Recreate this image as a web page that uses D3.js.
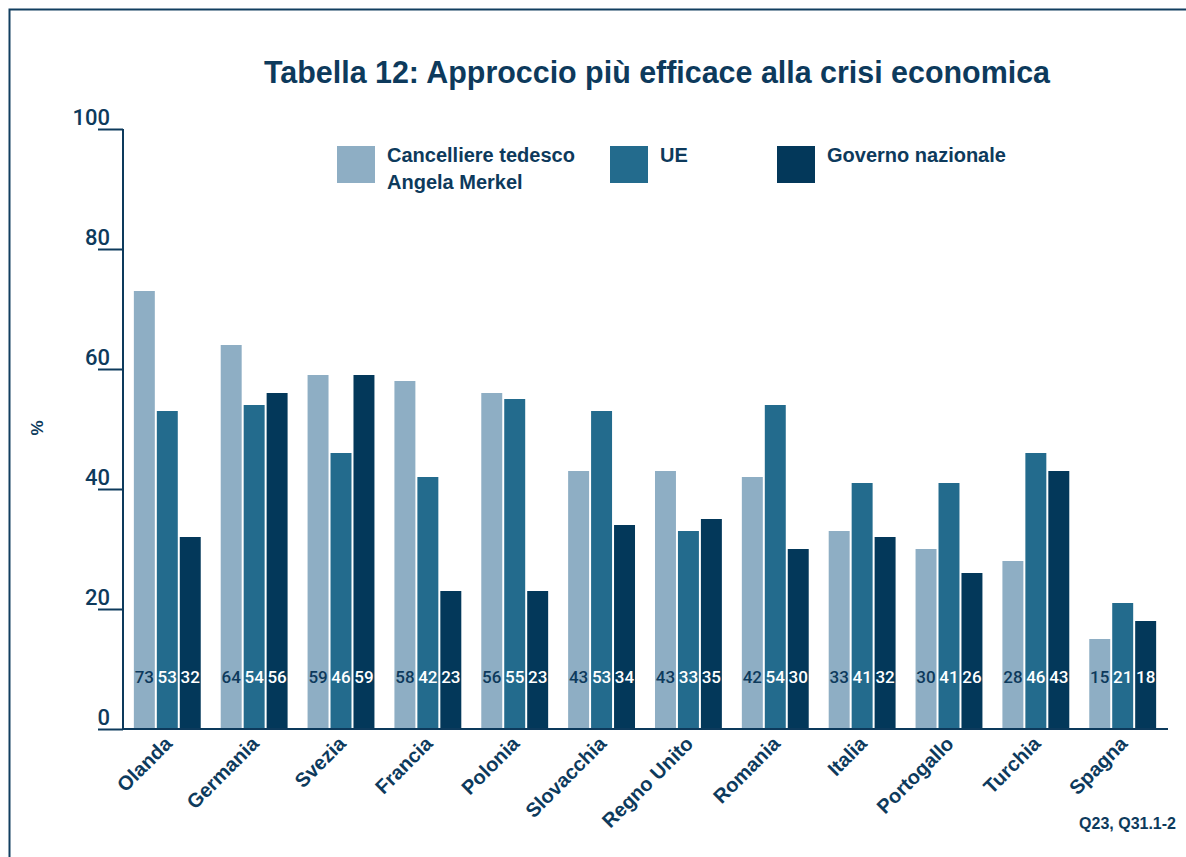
<!DOCTYPE html>
<html>
<head>
<meta charset="utf-8">
<script src="https://cdn.jsdelivr.net/npm/d3@7"></script>
<style>
  html, body { margin: 0; padding: 0; background: #fff; }
  svg { display: block; }
  text { font-family: "Liberation Sans", Arial, sans-serif; font-weight: bold; fill: #0d3a5c; }
</style>
</head>
<body>
<svg id="chart" width="1186" height="857"></svg>
<script>
// Countries on the x axis
const countries = ["Olanda", "Germania", "Svezia", "Francia", "Polonia", "Slovacchia",
  "Regno Unito", "Romania", "Italia", "Portogallo", "Turchia", "Spagna"];

// Series names (legend) and values in %
const seriesNames = ["Cancelliere tedesco\nAngela Merkel", "UE", "Governo nazionale"];
const merkel  = [73, 64, 59, 58, 56, 43, 43, 42, 33, 30, 28, 15];
const ue      = [53, 54, 46, 42, 55, 53, 33, 54, 41, 41, 46, 21];
const governo = [32, 56, 59, 23, 23, 34, 35, 30, 32, 26, 43, 18];

const yTicks = [0, 20, 40, 60, 80, 100];

const colors = ["#8eaec4", "#236b8d", "#03385a"];
const labelColors = ["#0d3a5c", "#ffffff", "#ffffff"];
const ink = "#0d3a5c";
const numFont = "Roboto, 'Liberation Sans', Arial, sans-serif";

const svg = d3.select("#chart");

// Outer frame (top and left edges)
svg.append("path")
  .attr("d", "M9.5,857V9.5H1186")
  .attr("fill", "none")
  .attr("stroke", "#123f60")
  .attr("stroke-width", 2);

// Title
const title = svg.append("text")
  .attr("x", 657).attr("y", 83)
  .attr("text-anchor", "middle")
  .style("font-size", "31px")
  .text("Tabella 12: Approccio più efficace alla crisi economica");
title.attr("textLength", 786).attr("lengthAdjust", "spacingAndGlyphs");

// Scales
const x0 = d3.scaleBand().domain(countries).range([123, 1167])
  .paddingInner(0.23).paddingOuter(0.125);
const x1 = d3.scaleBand().domain(d3.range(3)).range([0, x0.bandwidth()])
  .paddingInner(0.087);
const y = d3.scaleLinear().domain([0, 100]).range([729, 129]);

const seriesValues = [merkel, ue, governo];

// Bars
const groups = svg.append("g").selectAll("g")
  .data(countries)
  .join("g")
  .attr("transform", d => `translate(${x0(d)},0)`);

groups.selectAll("rect")
  .data((d, i) => seriesValues.map((vals, s) => ({ s, v: vals[i] })))
  .join("rect")
  .attr("x", d => x1(d.s))
  .attr("width", x1.bandwidth())
  .attr("y", d => y(d.v))
  .attr("height", d => y(0) - y(d.v))
  .attr("fill", d => colors[d.s]);

// Value labels inside bars
groups.selectAll("text.val")
  .data((d, i) => seriesValues.map((vals, s) => ({ s, v: vals[i] })))
  .join("text")
  .attr("class", "val")
  .attr("x", d => x1(d.s) + x1.bandwidth() / 2)
  .attr("y", 683)
  .attr("text-anchor", "middle")
  .style("font-family", numFont)
  .style("font-size", "17px")
  .style("font-weight", "500")
  .style("fill", d => labelColors[d.s])
  .text(d => d.v);

// Y axis
const yAxis = svg.append("g")
  .attr("transform", "translate(123,0)")
  .call(d3.axisLeft(y).tickValues(yTicks).tickSize(25).tickPadding(-12));
yAxis.select(".domain").attr("stroke", ink).attr("stroke-width", 2).attr("d", "M0,129V730");
yAxis.selectAll(".tick line").attr("stroke", ink).attr("stroke-width", 2);
yAxis.selectAll(".tick text")
  .attr("dy", "-5")
  .style("font-size", "22px")
  .style("font-family", numFont)
  .style("font-weight", "500")
  .style("fill", ink);

// X axis
const xAxis = svg.append("g")
  .attr("transform", "translate(0,729)")
  .call(d3.axisBottom(x0).tickSize(0).tickPadding(0));
xAxis.select(".domain").attr("stroke", ink).attr("stroke-width", 2).attr("d", "M122,0H1168");
xAxis.selectAll(".tick text")
  .attr("text-anchor", "end")
  .attr("transform", "translate(6,16) rotate(-45)")
  .attr("y", 0).attr("dy", "0")
  .style("font-size", "20px")
  .style("font-family", "'Liberation Sans', Arial, sans-serif")
  .style("font-weight", "bold")
  .style("fill", ink);

// Y axis title
svg.append("text")
  .attr("transform", "translate(43,428) rotate(-90)")
  .attr("text-anchor", "middle")
  .style("font-size", "17px")
  .text("%");

// Legend
const legendX = [337, 610, 777];
const legend = svg.append("g").selectAll("g")
  .data(seriesNames)
  .join("g")
  .attr("transform", (d, i) => `translate(${legendX[i]},146)`);
legend.append("rect")
  .attr("width", 38).attr("height", 37)
  .attr("fill", (d, i) => colors[i]);
legend.append("text")
  .attr("x", 50).attr("y", 16)
  .style("font-size", "20px")
  .selectAll("tspan")
  .data(d => d.split("\n"))
  .join("tspan")
  .attr("x", 50)
  .attr("dy", (d, i) => i === 0 ? 0 : 27)
  .text(d => d);

// Source note
svg.append("text")
  .attr("x", 1176).attr("y", 829)
  .attr("text-anchor", "end")
  .style("font-size", "16px")
  .text("Q23, Q31.1-2");
</script>
</body>
</html>
